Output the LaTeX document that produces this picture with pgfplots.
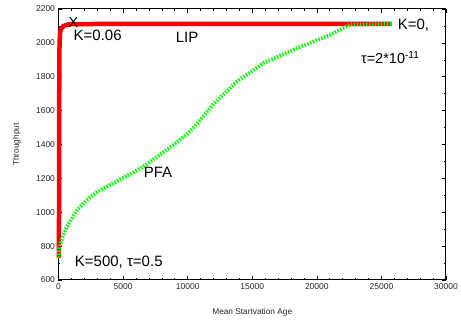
\documentclass[border=0pt]{standalone}
\usepackage{pgfplots}
\pgfplotsset{compat=1.18}
\usepackage{fontspec}
\setmainfont{Liberation Sans}
\definecolor{lipred}{RGB}{255,0,0}
\definecolor{pfagreen}{RGB}{0,255,0}
\begin{document}
\begin{tikzpicture}
\useasboundingbox (-58.5pt,-40pt) rectangle (402.5pt,280pt);
\begin{axis}[
  scale only axis,
  width=387.5pt, height=271pt,
  xmin=0, xmax=30000, ymin=600, ymax=2200,
  xtick={0,5000,...,30000}, ytick={600,800,...,2200},
  minor x tick num=4, minor y tick num=1,
  tick align=inside,
  major tick length=4pt, minor tick length=2pt,
  tick style={black, line width=0.6pt},
  axis line style={line width=1pt},
  scaled x ticks=false,
  /pgf/number format/assume math mode=true,
  /pgf/number format/1000 sep={},
  tick label style={font=\fontsize{8.5}{10}\selectfont, text=black!85},
  label style={font=\fontsize{8.3}{10}\selectfont, text=black!85},
  xlabel={Mean Startvation Age},
  ylabel={Throughput},
  xlabel style={at={(axis description cs:0.5,-0.118)}, anchor=center},
  ylabel style={at={(axis description cs:-0.108,0.5)}, anchor=center, rotate=0},
  clip=false,
]
\addplot[lipred, line width=4.5pt, line join=round] coordinates {
(30,730) (40,1000) (50,1400) (60,1800) (80,2000) (120,2060) (200,2085)
(400,2100) (700,2108) (1000,2111) (5000,2112) (25800,2112)
};
\addplot[pfagreen, line width=3.7pt, dash pattern=on 1.5pt off 1.5pt] coordinates {
(20,730) (50,785) (150,815) (270,842) (450,880) (650,914) (1000,960)
(1430,1012) (2000,1058) (2440,1090) (3000,1120) (4000,1162) (5000,1203)
(5800,1235) (6540,1270) (7500,1320) (8890,1398) (10000,1465) (10700,1520)
(12000,1640) (13800,1771) (15860,1880) (18440,1968) (21020,2047)
(22570,2108) (25800,2112)
};
\node[font=\fontsize{14.5}{16}\selectfont] at (axis cs:1150,2123) {X};
\node[font=\fontsize{15}{17}\selectfont, anchor=west] at (axis cs:900,2045) {K=0.06};
\node[font=\fontsize{15}{17}\selectfont] at (axis cs:9950,2035) {LIP};
\node[font=\fontsize{15}{17}\selectfont] at (axis cs:7700,1238) {PFA};
\node[font=\fontsize{15}{17}\selectfont, anchor=west] at (axis cs:1000,705) {K=500, τ=0.5};
\node[font=\fontsize{15}{17}\selectfont, anchor=west] at (axis cs:26000,2105) {K=0,};
\node[font=\fontsize{14.5}{16}\selectfont, anchor=west] at (axis cs:23150,1915) {τ=2*10\textsuperscript{-11}};
\end{axis}
\end{tikzpicture}
\end{document}
